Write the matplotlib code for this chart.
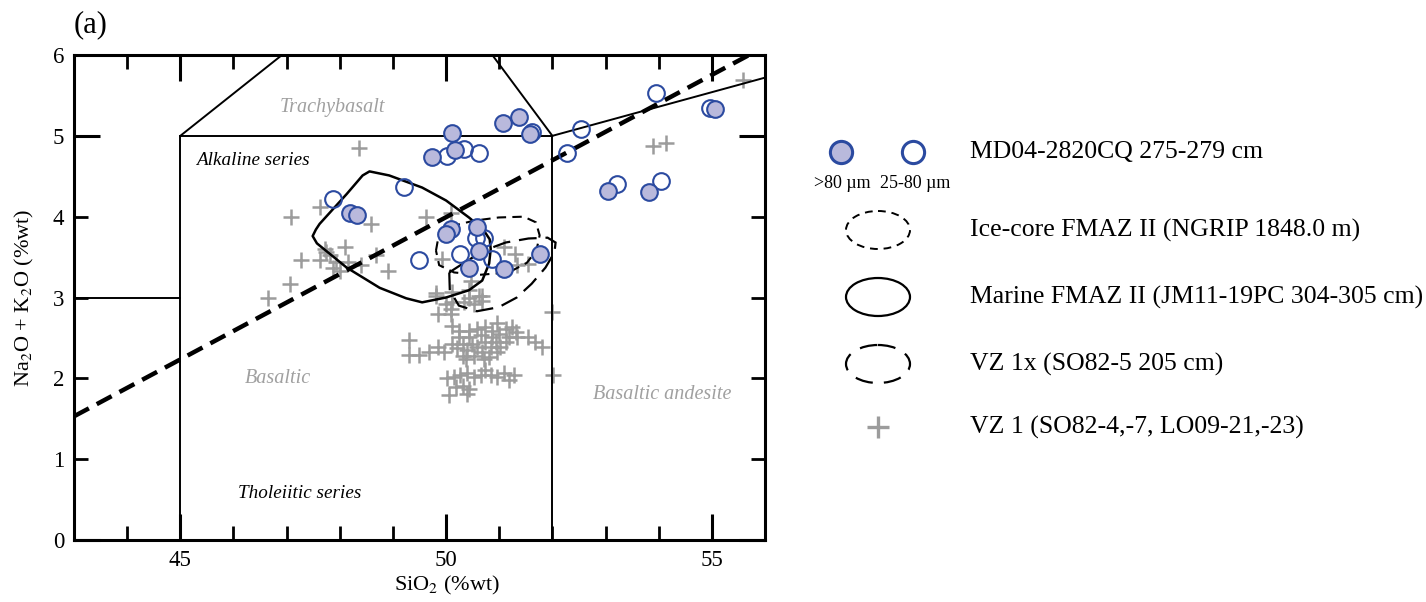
import matplotlib
matplotlib.use("Agg")
import matplotlib.pyplot as plt
from matplotlib.patches import Ellipse, Polygon
from matplotlib.ticker import MultipleLocator, FormatStrFormatter, NullFormatter

plt.rcParams['font.family'] = 'Liberation Serif'
plt.rcParams['mathtext.fontset'] = 'stix'

# TAS field boundaries (SiO2, Na2O+K2O)
tas_x = [[43, 45], [45, 45], [45, 52], [52, 52], [45, 49.4], [52, 49.4], [52, 57]]
tas_y = [[3, 3], [0, 5], [5, 5], [0, 5], [5, 7.3], [5, 7.3], [5, 5.9]]

# alkaline / subalkaline divide
alk_x = [43, 55.7]
alk_y = [1.53, 6.0]

# MD04-2820CQ 275-279 cm shards
big_x = [49.74, 50.11, 51.08, 51.38, 51.57, 50.17, 48.20, 48.33, 50.09, 49.99, 50.59,
         50.62, 50.43, 51.09, 51.77, 53.05, 53.82, 55.06]
big_y = [4.74, 5.04, 5.16, 5.23, 5.02, 4.83, 4.04, 4.02, 3.85, 3.79, 3.87,
         3.58, 3.37, 3.35, 3.54, 4.32, 4.31, 5.33]
small_x = [50.02, 50.34, 50.62, 51.61, 52.27, 52.53, 53.95, 49.21, 47.87, 49.49, 50.56,
           50.71, 50.27, 50.87, 53.22, 54.04, 54.96]
small_y = [4.75, 4.84, 4.79, 5.05, 4.79, 5.09, 5.53, 4.37, 4.22, 3.46, 3.74,
           3.74, 3.54, 3.48, 4.41, 4.44, 5.35]

# VZ 1 (SO82-4,-7, LO09-21,-23)
vz1_x = [49.81, 49.99, 50.09, 50.12, 50.34, 50.43, 50.52, 50.62, 50.68, 50.09,
         50.12, 50.24, 50.43, 50.59, 50.74, 50.87, 50.96, 51.12, 51.24, 51.31,
         49.68, 49.84, 49.96, 50.12, 50.21, 50.31, 50.40, 50.49, 50.59, 50.68,
         50.74, 50.84, 50.93, 51.02, 51.12, 51.18, 51.34, 51.55, 51.68, 51.80,
         50.37, 50.52, 50.81, 50.96, 50.24, 50.43, 50.65, 50.87, 50.99, 50.31, 50.71,
         50.02, 50.15, 50.27, 50.40, 50.52, 50.65, 50.74, 50.84, 50.96, 51.09,
         51.18, 51.27, 50.18, 50.31, 50.43, 50.06, 50.40, 51.99, 52.02,
         49.31, 49.31, 49.49, 49.84,
         49.62, 50.09, 49.93, 51.09, 51.30, 51.34, 51.55, 50.46, 49.81, 50.12, 50.43, 50.68,
         47.09, 47.62, 48.59, 47.28, 47.62, 47.72, 47.81, 48.09, 47.87, 48.00,
         48.15, 48.40, 48.68, 48.90, 47.06, 46.65, 47.74, 47.93,
         48.37, 53.90, 54.14, 55.58]
vz1_y = [3.02, 2.92, 2.86, 2.94, 2.94, 3.00, 2.92, 3.02, 2.96, 2.80,
         2.65, 2.59, 2.59, 2.61, 2.63, 2.59, 2.68, 2.61, 2.63, 2.57,
         2.32, 2.39, 2.32, 2.43, 2.37, 2.43, 2.35, 2.43, 2.39, 2.32,
         2.45, 2.39, 2.45, 2.39, 2.45, 2.51, 2.51, 2.51, 2.45, 2.39,
         2.24, 2.28, 2.26, 2.32, 2.51, 2.51, 2.53, 2.51, 2.55, 2.28, 2.24,
         2.00, 2.02, 2.04, 2.06, 2.02, 2.04, 2.10, 2.04, 2.02, 2.06,
         1.98, 2.04, 1.89, 1.91, 1.87, 1.79, 1.81, 2.82, 2.04,
         2.47, 2.29, 2.29, 2.80,
         3.99, 4.05, 3.48, 3.62, 3.54, 3.40, 3.42, 3.21, 3.05, 3.07, 3.09, 3.02,
         3.99, 4.12, 3.91, 3.46, 3.46, 3.60, 3.52, 3.62, 3.37, 3.33,
         3.44, 3.40, 3.52, 3.33, 3.17, 3.00, 3.56, 3.44,
         4.85, 4.88, 4.91, 5.69]

# outlines of published glass compositions
marine_x = [48.56, 48.93, 49.55, 50.00, 50.43, 50.70, 50.82, 50.84, 50.81, 50.68, 50.43,
            50.00, 49.55, 49.25, 48.75, 48.13, 47.57, 47.49, 47.55, 47.62, 48.13, 48.43]
marine_y = [4.56, 4.51, 4.36, 4.20, 3.99, 3.84, 3.72, 3.60, 3.42, 3.21, 3.09,
            3.00, 2.94, 2.99, 3.12, 3.37, 3.67, 3.76, 3.84, 3.91, 4.28, 4.51]
ice_x = [49.81, 49.87, 50.15, 50.52, 50.99, 51.46, 51.69, 51.76, 51.70, 51.52,
         51.18, 50.62, 50.15, 49.87]
ice_y = [3.58, 3.80, 3.89, 3.95, 3.99, 4.00, 3.93, 3.77, 3.58, 3.43,
         3.31, 3.28, 3.31, 3.40]
vz1x_x = [50.06, 50.07, 50.24, 50.58, 50.99, 51.33, 51.61, 51.87, 52.04, 52.06,
          51.91, 51.55, 51.12, 50.71, 50.34]
vz1x_y = [3.31, 3.09, 2.90, 2.83, 2.88, 3.00, 3.17, 3.37, 3.56, 3.68,
          3.74, 3.73, 3.68, 3.58, 3.43]

field_names = ["Trachybasalt", "Basaltic", "Basaltic andesite"]
field_x = [47.87, 46.84, 54.06]
field_y = [5.35, 2.0, 1.8]
series_names = ["Alkaline series", "Tholeiitic series"]
series_x = [46.37, 47.25]
series_y = [4.70, 0.58]

blue = '#2b4aa0'
lilac = '#b9b9dc'
grey = '#9c9c9c'

fig = plt.figure(figsize=(14.26, 6.02), dpi=100)
ax = fig.add_axes([74/1426, 62/602, 691/1426, 485/602])

for xs, ys in zip(tas_x, tas_y):
    ax.plot(xs, ys, color='k', lw=1.4, zorder=2)
ax.plot(alk_x, alk_y, color='k', lw=3.2, linestyle=(0, (3.8, 2.0)), zorder=3)

ax.plot(vz1_x, vz1_y, '+', color=grey, ms=12, mew=1.8, zorder=1)

ax.add_patch(Polygon(list(zip(marine_x, marine_y)), closed=True, fill=False,
                     ec='k', lw=1.8, joinstyle='round', zorder=4))
ax.add_patch(Polygon(list(zip(ice_x, ice_y)), closed=True, fill=False,
                     ec='k', lw=1.5, linestyle=(0, (4.5, 3)), zorder=4))
ax.add_patch(Polygon(list(zip(vz1x_x, vz1x_y)), closed=True, fill=False,
                     ec='k', lw=1.6, linestyle=(0, (8, 4)), zorder=4))

ax.plot(small_x, small_y, 'o', ms=12, mfc='none', mec=blue, mew=1.5, zorder=5)
ax.plot(big_x, big_y, 'o', ms=12, mfc=lilac, mec=blue, mew=1.5, zorder=6)

for name, x, y in zip(field_names, field_x, field_y):
    ax.text(x, y, name, color='#a0a0a0', style='italic', fontsize=14.5,
            ha='center', va='center')
for name, x, y in zip(series_names, series_x, series_y):
    ax.text(x, y, name, color='k', style='italic', fontsize=13.8,
            ha='center', va='center')

ax.set_xlim(43, 56)
ax.set_ylim(0, 6)
ax.xaxis.set_major_locator(MultipleLocator(5))
ax.xaxis.set_minor_locator(MultipleLocator(1))
ax.yaxis.set_major_locator(MultipleLocator(5))
ax.yaxis.set_minor_locator(MultipleLocator(1))
ax.yaxis.set_major_formatter(FormatStrFormatter('%d'))
ax.yaxis.set_minor_formatter(FormatStrFormatter('%d'))
ax.xaxis.set_minor_formatter(NullFormatter())
ax.tick_params(which='both', direction='in', top=True, right=True, labelsize=16.5)
ax.tick_params(which='major', length=19, width=2.2, pad=7)
ax.tick_params(which='minor', length=10, width=2.0, pad=7)
for s in ax.spines.values():
    s.set_linewidth(2.2)

ax.set_xlabel('SiO$_2$ (%wt)', fontsize=16, labelpad=2, x=(447 - 74) / 691)
ax.set_ylabel('Na$_2$O + K$_2$O (%wt)', fontsize=16, labelpad=12)
fig.text(74/1426, 1 - 25/602, '(a)', fontsize=22, va='center', ha='left')

# legend, drawn in figure pixels
leg = fig.add_axes([0, 0, 1, 1], facecolor='none')
leg.set_xlim(0, 1426)
leg.set_ylim(602, 0)
leg.axis('off')
leg.plot([841], [152], 'o', ms=16, mfc=lilac, mec=blue, mew=2.2)
leg.plot([913], [152], 'o', ms=16, mfc='none', mec=blue, mew=2.2)
leg.text(842, 184, '>80 \u00b5m', fontsize=13, ha='center', va='center')
leg.text(915, 184, '25-80 \u00b5m', fontsize=13, ha='center', va='center')
leg.add_patch(Ellipse((878, 230), 64, 38, fill=False, ec='k', lw=1.4, linestyle=(0, (4, 3))))
leg.add_patch(Ellipse((878, 297), 64, 38, fill=False, ec='k', lw=1.6))
leg.add_patch(Ellipse((878, 364), 64, 38, fill=False, ec='k', lw=1.6, linestyle=(0, (8, 5))))
leg.plot([878], [427], '+', ms=16, color=grey, mew=2.4)

legend_labels = ['MD04-2820CQ 275-279 cm', 'Ice-core FMAZ II (NGRIP 1848.0 m)',
                 'Marine FMAZ II (JM11-19PC 304-305 cm)', 'VZ 1x (SO82-5 205 cm)',
                 'VZ 1 (SO82-4,-7, LO09-21,-23)']
legend_rows = [152, 230, 297, 364, 427]
for lab, y in zip(legend_labels, legend_rows):
    leg.text(970, y, lab, fontsize=18.5, ha='left', va='center')

fig.savefig('out.png', dpi=100)
